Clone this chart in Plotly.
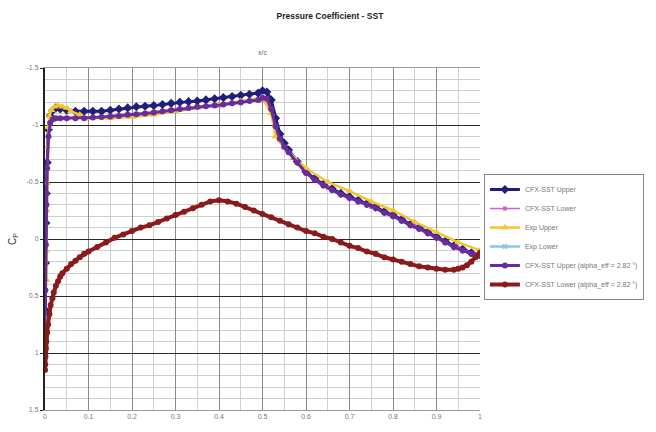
import plotly.graph_objects as go

# ---------------- data ----------------
# CFX-SST Upper
x_cfx_up = [0, 0.001, 0.002, 0.003, 0.005, 0.008, 0.012, 0.018, 0.025, 0.035, 0.05, 0.07, 0.09,
            0.11, 0.13, 0.15, 0.17, 0.19, 0.21, 0.23, 0.25, 0.27, 0.29, 0.31, 0.33, 0.35, 0.37,
            0.39, 0.41, 0.43, 0.45, 0.47, 0.49, 0.50, 0.51, 0.52, 0.53, 0.54, 0.55, 0.56, 0.58,
            0.60, 0.62, 0.64, 0.66, 0.68, 0.70, 0.72, 0.74, 0.76, 0.78, 0.80, 0.82, 0.84, 0.86,
            0.88, 0.90, 0.92, 0.94, 0.96, 0.98, 1.0]
cp_cfx_up = [0.62, 0.21, -0.14, -0.40, -0.67, -0.96, -1.08, -1.13, -1.15, -1.14, -1.13, -1.12, -1.12,
             -1.12, -1.12, -1.13, -1.14, -1.15, -1.16, -1.165, -1.17, -1.18, -1.19, -1.20, -1.205, -1.21, -1.22,
             -1.23, -1.24, -1.25, -1.26, -1.27, -1.28, -1.30, -1.29, -1.22, -1.06, -0.92, -0.84, -0.78, -0.68,
             -0.59, -0.53, -0.48, -0.44, -0.40, -0.37, -0.34, -0.31, -0.28, -0.24, -0.21, -0.17, -0.13, -0.10,
             -0.06, -0.02, 0.02, 0.06, 0.09, 0.12, 0.14]

# CFX-SST Lower (seen only as pink traces inside the upper purple band)
x_cfx_lo = [0.01, 0.02, 0.04, 0.07, 0.1, 0.15, 0.2, 0.25, 0.3, 0.35, 0.4, 0.45, 0.5, 0.52, 0.54,
            0.57, 0.6, 0.65, 0.7, 0.75, 0.8, 0.85, 0.9, 0.95, 1.0]
cp_cfx_lo = [-0.98, -1.05, -1.06, -1.06, -1.06, -1.07, -1.09, -1.11, -1.13, -1.15, -1.17, -1.19, -1.22, -1.13, -0.88,
             -0.71, -0.58, -0.45, -0.36, -0.28, -0.20, -0.11, -0.01, 0.08, 0.14]

# Exp Upper
x_exp_up = [0.003, 0.003, 0.004, 0.005, 0.006, 0.008, 0.010, 0.015, 0.022, 0.03, 0.04, 0.05, 0.06,
            0.08, 0.10, 0.15, 0.20, 0.25, 0.30, 0.35, 0.40, 0.45, 0.50, 0.52, 0.53, 0.55,
            0.60, 0.65, 0.70, 0.75, 0.80, 0.85, 0.90, 0.95, 1.0]
cp_exp_up = [0.36, 0.10, -0.25, -0.49, -0.81, -0.98, -1.08, -1.13, -1.16, -1.17, -1.16, -1.15, -1.12,
             -1.09, -1.06, -1.06, -1.07, -1.09, -1.12, -1.15, -1.18, -1.21, -1.24, -1.10, -0.90, -0.80,
             -0.62, -0.50, -0.42, -0.33, -0.25, -0.15, -0.06, 0.03, 0.10]

# Exp Lower (no points visible in the reference; legend entry only)
x_exp_lo = [None]
cp_exp_lo = [None]

# CFX-SST Upper (alpha_eff = 2.82 deg)
x_alf_up = [0, 0.001, 0.002, 0.003, 0.005, 0.008, 0.012, 0.018, 0.025, 0.035, 0.05, 0.07, 0.09,
            0.11, 0.13, 0.15, 0.17, 0.19, 0.21, 0.23, 0.25, 0.27, 0.29, 0.31, 0.33, 0.35, 0.37,
            0.39, 0.41, 0.43, 0.45, 0.47, 0.49, 0.50, 0.51, 0.52, 0.53, 0.54, 0.55, 0.56, 0.58,
            0.60, 0.62, 0.64, 0.66, 0.68, 0.70, 0.72, 0.74, 0.76, 0.78, 0.80, 0.82, 0.84, 0.86,
            0.88, 0.90, 0.92, 0.94, 0.96, 0.98, 1.0]
cp_alf_up = [0.80, 0.45, 0.05, -0.30, -0.62, -0.90, -1.02, -1.05, -1.06, -1.06, -1.06, -1.06, -1.06,
             -1.065, -1.07, -1.075, -1.08, -1.09, -1.095, -1.10, -1.11, -1.12, -1.13, -1.14, -1.15, -1.16, -1.165,
             -1.17, -1.18, -1.19, -1.20, -1.21, -1.22, -1.24, -1.23, -1.14, -0.99, -0.88, -0.81, -0.76, -0.67,
             -0.58, -0.52, -0.47, -0.43, -0.39, -0.36, -0.33, -0.30, -0.27, -0.23, -0.20, -0.16, -0.12, -0.09,
             -0.05, -0.01, 0.03, 0.07, 0.10, 0.13, 0.14]

# CFX-SST Lower (alpha_eff = 2.82 deg)
x_alf_lo = [0, 0.0005, 0.001, 0.002, 0.003, 0.005, 0.007, 0.01, 0.013, 0.017, 0.02, 0.025, 0.03,
            0.035, 0.04, 0.05, 0.06, 0.07, 0.08, 0.09, 0.1, 0.12, 0.14, 0.16, 0.18, 0.2, 0.22, 0.24,
            0.26, 0.28, 0.3, 0.32, 0.34, 0.36, 0.38, 0.4, 0.42, 0.44, 0.46, 0.48, 0.5, 0.52, 0.54,
            0.56, 0.58, 0.6, 0.62, 0.64, 0.66, 0.68, 0.7, 0.72, 0.74, 0.76, 0.78, 0.8, 0.82, 0.84,
            0.86, 0.88, 0.9, 0.92, 0.94, 0.95, 0.96, 0.97, 0.98, 0.99, 1.0]
cp_alf_lo = [1.15, 1.10, 1.03, 0.96, 0.90, 0.82, 0.75, 0.66, 0.58, 0.52, 0.47, 0.41, 0.37,
             0.33, 0.30, 0.26, 0.22, 0.19, 0.16, 0.13, 0.11, 0.07, 0.03, -0.01, -0.04, -0.07, -0.10, -0.12,
             -0.15, -0.18, -0.21, -0.24, -0.27, -0.30, -0.33, -0.34, -0.33, -0.31, -0.28, -0.25, -0.22, -0.19, -0.16,
             -0.13, -0.10, -0.07, -0.05, -0.02, 0.00, 0.03, 0.06, 0.08, 0.11, 0.13, 0.16, 0.18, 0.20, 0.22,
             0.24, 0.25, 0.26, 0.27, 0.27, 0.26, 0.25, 0.23, 0.20, 0.16, 0.12]

names = ["CFX-SST Upper", "CFX-SST Lower", "Exp Upper", "Exp Lower",
         "CFX-SST Upper (alpha_eff = 2.82 °)", "CFX-SST Lower (alpha_eff = 2.82 °)"]
y_ticks = [-1.5, -1, -0.5, 0, 0.5, 1, 1.5]
y_tick_text = ["-1.5", "-1", "-0.5", "0", "0.5", "1", "1.5"]
x_ticks = [0, 0.1, 0.2, 0.3, 0.4, 0.5, 0.6, 0.7, 0.8, 0.9, 1]
x_tick_text = ["0", "0.1", "0.2", "0.3", "0.4", "0.5", "0.6", "0.7", "0.8", "0.9", "1"]

# ---------------- figure ----------------
series = [
    (x_cfx_up, cp_cfx_up, "#1f1f7a", "diamond", 7, 3),
    (x_cfx_lo, cp_cfx_lo, "#d060c8", "square", 4, 1.5),
    (x_exp_up, cp_exp_up, "#f4c430", "triangle-up", 7, 2.5),
    (x_exp_lo, cp_exp_lo, "#88c4f0", "x", 5, 2.5),
    (x_alf_up, cp_alf_up, "#6a2c9a", "circle", 6, 3),
    (x_alf_lo, cp_alf_lo, "#8b1a1a", "circle", 6, 4),
]

fig = go.Figure()
for (xs, ys, col, sym, sz, lw), nm in zip(series, names):
    fig.add_trace(go.Scatter(
        x=xs, y=ys, name=nm, mode="lines+markers", showlegend=True,
        line=dict(color=col, width=lw),
        marker=dict(color=col, symbol=sym, size=sz, line=dict(width=0)),
    ))

font_family = "Liberation Sans, Arial, sans-serif"
fig.update_layout(
    width=656, height=432,
    margin=dict(l=45, r=176, t=68, b=22),
    paper_bgcolor="white", plot_bgcolor="white",
    font=dict(family=font_family, size=7, color="#666"),
    title=dict(text="<b>Pressure Coefficient - SST</b>", x=0.503, xref="container",
               y=0.962, yanchor="middle", font=dict(size=8.5, color="#222")),
    showlegend=True,
    legend=dict(x=1.009, y=0.69, xanchor="left", yanchor="top",
                bordercolor="#888", borderwidth=1, bgcolor="white",
                font=dict(size=7, color="#777"), itemwidth=30, tracegroupgap=0),
    annotations=[dict(text="x/c", xref="paper", yref="paper", x=0.5, y=1, yanchor="bottom",
                      yshift=10, showarrow=False, font=dict(size=7, color="#666"))],
)
fig.update_xaxes(
    range=[0, 1], tickvals=x_ticks, ticktext=x_tick_text,
    showgrid=True, gridcolor="#8a8a8a", gridwidth=1,
    minor=dict(dtick=0.05, showgrid=True, gridcolor="#d0d0d0", gridwidth=1),
    showline=True, linecolor="#9a9a9a", linewidth=1, mirror=True,
    zeroline=False, ticks="", tickfont=dict(size=7, color="#777"),
)
fig.update_yaxes(
    range=[1.5, -1.5], tickvals=y_ticks, ticktext=y_tick_text,
    showgrid=True, gridcolor="#2a2a2a", gridwidth=1.3,
    minor=dict(dtick=0.1, showgrid=True, gridcolor="#cfcfcf", gridwidth=1),
    showline=True, linecolor="#222", linewidth=2,
    zeroline=False, ticks="outside", ticklen=3, tickcolor="#222",
    tickfont=dict(size=7, color="#777"),
    title=dict(text="C<sub>P</sub>", font=dict(size=10, color="#333"), standoff=8),
)

fig.write_html("out.html")
